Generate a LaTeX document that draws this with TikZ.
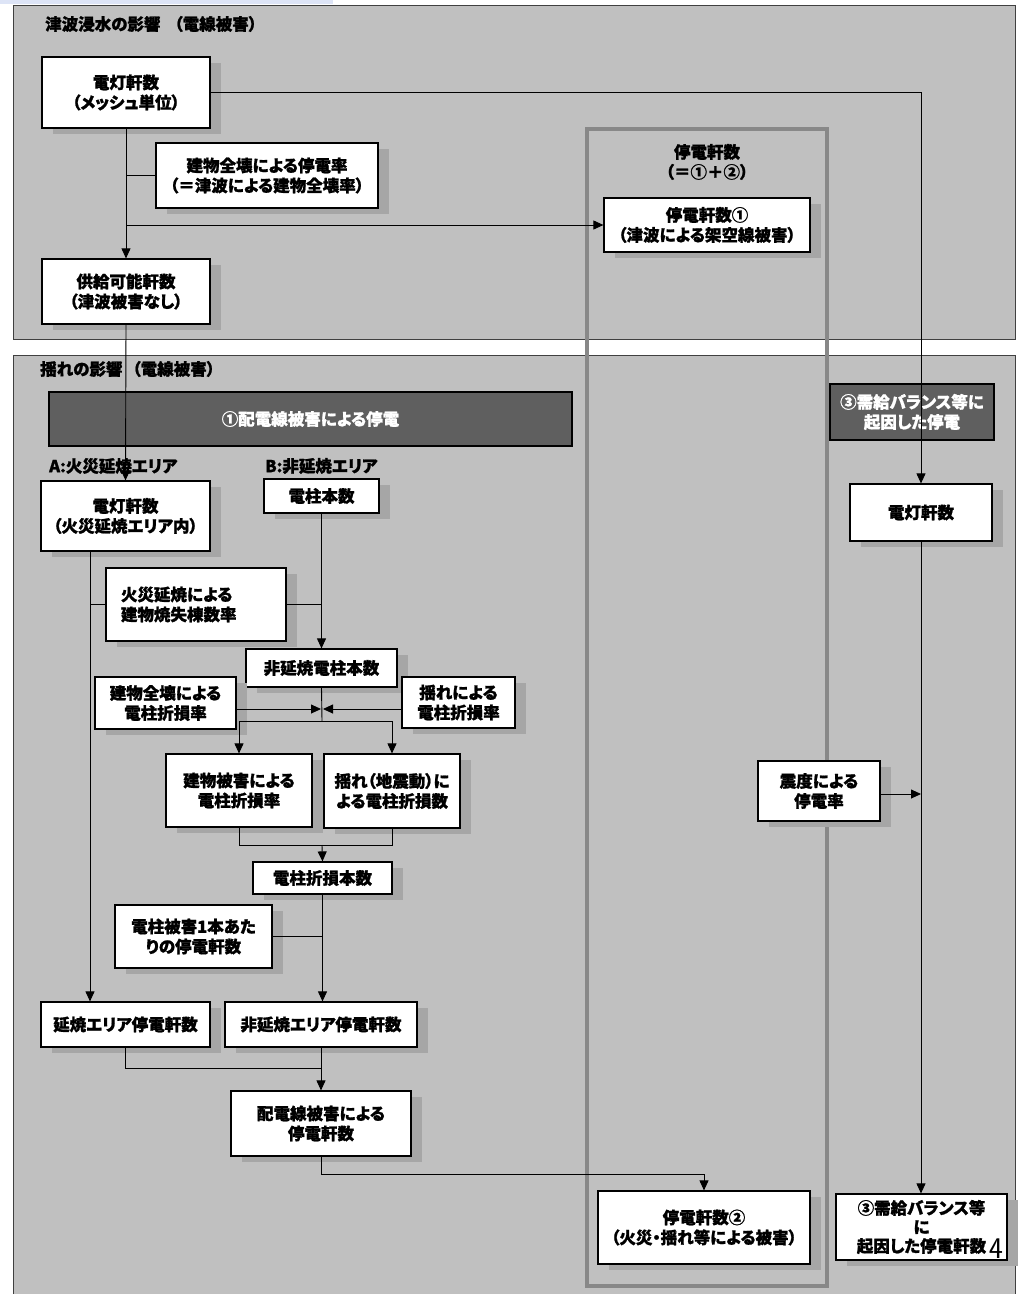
\documentclass[tikz,border=0pt]{standalone}
\usepackage{fontspec}
\setmainfont{Noto Sans CJK JP}[RawFeature=+palt, BoldFeatures={FakeBold=1.2}]
\usetikzlibrary{arrows.meta,shadows}
\definecolor{panelgray}{RGB}{192,192,192}
\definecolor{shadowgray}{RGB}{166,166,166}
\definecolor{darkfill}{RGB}{95,95,95}
\definecolor{framegray}{RGB}{136,136,136}
\definecolor{topbar}{RGB}{221,228,246}
\newcommand\boxfont{\fontsize{16.5}{20}\selectfont\bfseries}
\newcommand\headfont{\fontsize{16.5}{20}\selectfont\bfseries}
\begin{document}
\begin{tikzpicture}[x=1pt,y=-1pt,
  panel/.style={fill=panelgray, draw=black!75, line width=1pt},
  box/.style={draw=black, line width=1.2pt, fill=white, align=center,
    inner sep=0pt, font=\boxfont,
    drop shadow={shadow xshift=11pt, shadow yshift=-6pt, fill=shadowgray, opacity=1}},
  darkbox/.style={draw=black, line width=1.4pt, fill=darkfill, text=white,
    align=center, inner sep=0pt, font=\boxfont},
  head/.style={font=\headfont, anchor=west, inner sep=0pt},
  conn/.style={draw=black, line width=0.9pt},
  arr/.style={conn, -{Triangle[length=10pt,width=9pt]}},
]
\useasboundingbox (0,0) rectangle (1018,1294);
\fill[white] (0,0) rectangle (1018,1294);
\fill[topbar] (0,0) rectangle (333,4);

% panels
\draw[panel] (13,5) rectangle (1015,339);
\begin{scope}
  \clip (0,0) rectangle (1018,1294);
  \draw[panel] (13,355) rectangle (1015,1310);
\end{scope}

% frame collecting the outage counts
\draw[framegray, line width=3.5pt] (587,129) rectangle (827,1286);

% headings
\node[head] (h1) at (45,24) {津波浸水の影響\hspace{14pt}（電線被害）};
\node[head] (h2) at (40,369) {揺れの影響\hspace{10pt}（電線被害）};
\node[head] (hA) at (49,466) {A:火災延焼エリア};
\node[head] (hB) at (265,466) {B:非延焼エリア};
\node[font=\headfont, align=center, inner sep=0pt] (hsum) at (707,162) {停電軒数\\（＝①＋②）};

% dark banners
\node[darkbox, minimum width=523pt, minimum height=54pt] (d1) at (310.5,419) {①配電線被害による停電};
\node[darkbox, minimum width=164pt, minimum height=56pt] (d2) at (912,412) {③需給バランス等に\\起因した停電};

% tsunami part
\node[box, minimum width=168pt, minimum height=71pt] (b1) at (126,92.5) {電灯軒数\\（メッシュ単位）};
\node[box, minimum width=222pt, minimum height=65pt] (b2) at (267,175.5) {建物全壊による停電率\\（＝津波による建物全壊率）};
\node[box, minimum width=168pt, minimum height=65pt] (b3) at (126,291.5) {供給可能軒数\\（津波被害なし）};
\node[box, minimum width=206pt, minimum height=54pt] (b4) at (707,225) {停電軒数①\\（津波による架空線被害）};

% shaking part
\node[box, minimum width=169pt, minimum height=70pt] (b5) at (125.5,516) {電灯軒数\\（火災延焼エリア内）};
\node[box, minimum width=115pt, minimum height=34pt] (b6) at (321.5,496) {電柱本数};
\node[box, minimum width=180pt, minimum height=73pt, text width=150pt, inner xsep=15pt, align=left] (b7) at (196,604.5) {火災延焼による\\建物焼失棟数率};
\node[box, minimum width=151pt, minimum height=38pt] (b8) at (321.5,668) {非延焼電柱本数};
\node[box, minimum width=141pt, minimum height=52pt] (b9) at (165.5,703) {建物全壊による\\電柱折損率};
\node[box, minimum width=113pt, minimum height=51pt] (b10) at (458.5,702.5) {揺れによる\\電柱折損率};
\node[box, minimum width=146pt, minimum height=73pt] (b11) at (239,790.5) {建物被害による\\電柱折損率};
\node[box, minimum width=136pt, minimum height=74pt] (b12) at (392,791) {揺れ（地震動）に\\よる電柱折損数};
\node[box, minimum width=139pt, minimum height=32pt] (b13) at (322.5,878) {電柱折損本数};
\node[box, minimum width=157pt, minimum height=63pt] (b14) at (193.5,936.5) {電柱被害1本あた\\りの停電軒数};
\node[box, minimum width=169pt, minimum height=45pt] (b15) at (125.5,1024.5) {延焼エリア停電軒数};
\node[box, minimum width=192pt, minimum height=45pt] (b16) at (321,1024.5) {非延焼エリア停電軒数};
\node[box, minimum width=180pt, minimum height=65pt] (b17) at (321,1123.5) {配電線被害による\\停電軒数};
\node[box, minimum width=212pt, minimum height=73pt] (b18) at (704,1227.5) {停電軒数②\\（火災・揺れ等による被害）};

% supply-balance part
\node[box, minimum width=142pt, minimum height=57pt] (b19) at (921,512.5) {電灯軒数};
\node[box, minimum width=122pt, minimum height=60pt] (b20) at (819,791) {震度による\\停電率};
\node[box, minimum width=171pt, minimum height=66pt, font=\fontsize{16.5}{19}\selectfont\bfseries] (b21) at (921.5,1227) {③需給バランス等\\に\\起因した停電軒数};
\node[font=\fontsize{30}{30}\selectfont\sffamily, inner sep=0pt] (pg) at (996,1249) {4};

% junction points
\coordinate (jT1) at (126,175);
\coordinate (jT2) at (126,225);
\coordinate (jR) at (921,92);
\coordinate (jA) at (90,604);
\coordinate (jB) at (322,604);
\coordinate (jS) at (322,709);
\coordinate (jS2) at (322,721);
\coordinate (jS3) at (322,845);
\coordinate (jP) at (322,936);
\coordinate (jE) at (321,1068);
\coordinate (jF) at (321,1174);
\coordinate (jQ) at (921,794);

% tsunami connectors
\draw[arr] (b1.south) -- (b3.north);
\draw[conn] (jT1) -- (b2.west |- jT1);
\draw[arr] (jT2) -- (b4.west |- jT2);
\draw[arr] (b1.east |- jR) -- (jR) -- (b19.north);

% shaking connectors
\draw[arr] (b3.south) -- (b5.north);
\draw[arr] (b5.south -| jA) -- (b15.north -| jA);
\draw[conn] (jA) -- (b7.west |- jA);
\draw[conn] (b7.east |- jB) -- (jB);
\draw[arr] (b6.south) -- (b8.north);
\draw[conn] (b8.south) -- (jS2);
\draw[arr] (b9.east |- jS) -- ([xshift=-1pt]jS);
\draw[arr] (b10.west |- jS) -- ([xshift=1pt]jS);
\draw[arr] (b11.north |- jS2) -- (b11.north);
\draw[arr] (b12.north |- jS2) -- (b12.north);
\draw[conn] (b11.north |- jS2) -- (b12.north |- jS2);
\draw[conn] (b11.south) -- (b11.south |- jS3) -- (b12.south |- jS3) -- (b12.south);
\draw[arr] (jS3) -- (b13.north);
\draw[arr] (b13.south) -- (b16.north -| b13.south);
\draw[conn] (b14.east |- jP) -- (jP);
\draw[conn] (b15.south) -- (b15.south |- jE) -- (jE);
\draw[arr] (b16.south) -- (b17.north);
\draw[arr] (b17.south) -- (jF) -- (b18.north |- jF) -- (b18.north);

% supply-balance connectors
\draw[arr] (b19.south) -- (b21.north -| b19.south);
\draw[arr] (b20.east |- jQ) -- (jQ);
\end{tikzpicture}
\end{document}
